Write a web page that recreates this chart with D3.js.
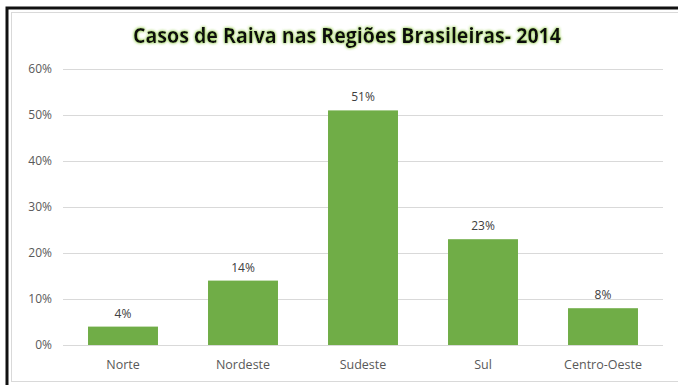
<!DOCTYPE html>
<html><head><meta charset="utf-8">
<script src="https://cdn.jsdelivr.net/npm/d3@7"></script>
<style>body{margin:0;background:#fff}svg{display:block}</style>
</head><body>
<script>
const categories = ["Norte","Nordeste","Sudeste","Sul","Centro-Oeste"];
const values = [0.04,0.14,0.51,0.23,0.08];
const valueLabels = ["4%","14%","51%","23%","8%"];
const yTicks = [0,0.1,0.2,0.3,0.4,0.5,0.6];
const title = "Casos de Raiva nas Regiões Brasileiras- 2014";

const W=678,H=385;
const svg=d3.select("body").append("svg").attr("width",W).attr("height",H);
const font="'Open Sans', 'Liberation Sans', sans-serif";

const defs=svg.append("defs");
const f=defs.append("filter").attr("id","glow").attr("x","-10%").attr("y","-40%").attr("width","120%").attr("height","180%");
f.append("feGaussianBlur").attr("in","SourceAlpha").attr("stdDeviation",1.8).attr("result","b");
f.append("feFlood").attr("flood-color","#a9d86e").attr("flood-opacity",1);
f.append("feComposite").attr("in2","b").attr("operator","in").attr("result","g");
const m=f.append("feMerge");m.append("feMergeNode").attr("in","g");m.append("feMergeNode").attr("in","g");m.append("feMergeNode").attr("in","SourceGraphic");

// frame
svg.append("rect").attr("x",11.5).attr("y",12.5).attr("width",680).attr("height",369).attr("fill","none").attr("stroke","#d9d9d9");
svg.append("path").attr("d","M7,385 V8 H678").attr("fill","none").attr("stroke","#111").attr("stroke-width",3);

const x=d3.scaleBand().domain(categories).range([63,663]).paddingInner(0.417).paddingOuter(0.2085);
const y=d3.scaleLinear().domain([0,0.6]).range([345,69]);

const g=svg.append("g");
g.selectAll("line.grid").data(yTicks).join("line").attr("class","grid")
 .attr("x1",63).attr("x2",663).attr("y1",d=>Math.round(y(d))+0.5).attr("y2",d=>Math.round(y(d))+0.5)
 .attr("stroke","#d9d9d9").attr("stroke-width",1);

g.selectAll("text.yt").data(yTicks).join("text").attr("class","yt")
 .attr("x",52).attr("y",d=>y(d)).attr("dy","0.35em").attr("text-anchor","end")
 .attr("font-family",font).attr("font-size",12).attr("fill","#595959")
 .text(d3.format(".0%"));

g.selectAll("rect.bar").data(values).join("rect").attr("class","bar")
 .attr("x",(d,i)=>x(categories[i])).attr("width",x.bandwidth())
 .attr("y",d=>y(d)).attr("height",d=>y(0)-y(d)).attr("fill","#70ad47");

g.selectAll("text.vl").data(values).join("text").attr("class","vl")
 .attr("x",(d,i)=>x(categories[i])+x.bandwidth()/2).attr("y",d=>y(d)-9)
 .attr("text-anchor","middle").attr("font-family",font).attr("font-size",12).attr("fill","#404040")
 .text((d,i)=>valueLabels[i]);

g.selectAll("text.xl").data(categories).join("text").attr("class","xl")
 .attr("x",d=>x(d)+x.bandwidth()/2).attr("y",365).attr("dy","0.35em")
 .attr("text-anchor","middle").attr("font-family",font).attr("font-size",12.5).attr("fill","#595959")
 .text(d=>d);

svg.append("text").attr("x",347).attr("y",43).attr("text-anchor","middle")
 .attr("font-family","'Open Sans', sans-serif").attr("font-weight","bold").attr("font-size",22)
 .attr("textLength",428).attr("lengthAdjust","spacingAndGlyphs")
 .attr("fill","#111").attr("filter","url(#glow)").text(title);
</script>
</body></html>
